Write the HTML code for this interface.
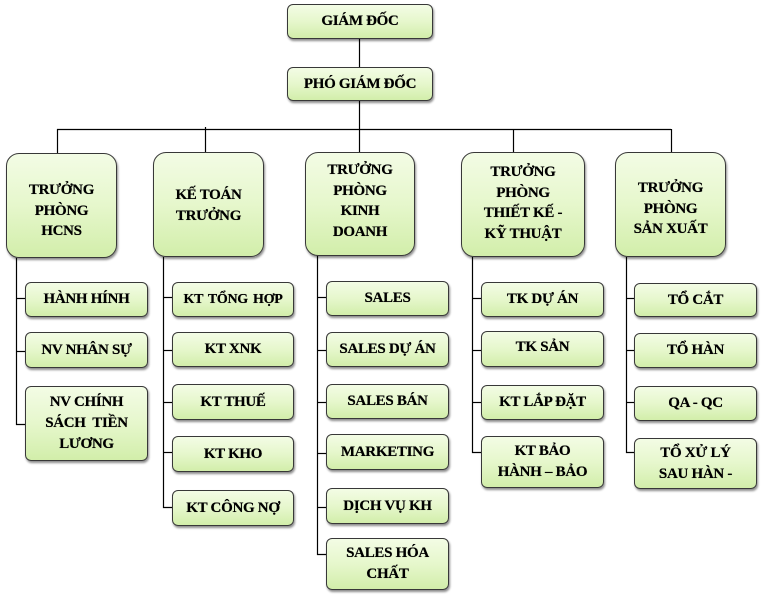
<!DOCTYPE html>
<html><head><meta charset="utf-8">
<style>
html,body{margin:0;padding:0;background:#fff;}
body{width:768px;height:602px;position:relative;overflow:hidden;font-family:"Liberation Serif","Noto Serif CJK SC",serif;}
.b{position:absolute;box-sizing:border-box;border:1px solid #383838;border-radius:6px;
background:linear-gradient(to bottom,#f3fce5 0%,#e6f7cc 50%,#d2eeaa 100%);
box-shadow:1px 2px 2px rgba(0,0,0,0.45);
font-weight:bold;font-size:15px;color:#000;text-align:center;line-height:21px;
display:flex;align-items:center;justify-content:center;flex-direction:column;letter-spacing:-0.3px;
text-shadow:0 0 0.4px #000;}
.big{border-radius:13px;justify-content:flex-start;line-height:20.7px;}
svg{position:absolute;left:0;top:0;}
</style></head><body>
<svg width="768" height="602" viewBox="0 0 768 602">
<g stroke="#000" stroke-width="1.2" fill="none">
<line x1="359.5" y1="39" x2="359.5" y2="67"/>
<line x1="359.5" y1="101" x2="359.5" y2="152"/>
<line x1="57" y1="129.5" x2="671" y2="129.5"/>
<line x1="57.5" y1="129" x2="57.5" y2="153"/>
<line x1="205.5" y1="127" x2="205.5" y2="152"/>
<line x1="513.5" y1="129" x2="513.5" y2="152"/>
<line x1="671.5" y1="129" x2="671.5" y2="152"/>
<!-- HCNS -->
<polyline points="16.5,258 16.5,424.5 25,424.5"/>
<line x1="16.5" y1="298.5" x2="25" y2="298.5"/>
<line x1="16.5" y1="351.5" x2="25" y2="351.5"/>
<!-- KT -->
<polyline points="163.5,257 163.5,507.5 172,507.5"/>
<line x1="163.5" y1="297.5" x2="172" y2="297.5"/>
<line x1="163.5" y1="350.5" x2="172" y2="350.5"/>
<line x1="163.5" y1="402.5" x2="172" y2="402.5"/>
<line x1="163.5" y1="452.5" x2="172" y2="452.5"/>
<!-- KD -->
<polyline points="317.5,256 317.5,554.5 326,554.5"/>
<line x1="317.5" y1="297.5" x2="326" y2="297.5"/>
<line x1="317.5" y1="350.5" x2="326" y2="350.5"/>
<line x1="317.5" y1="402.5" x2="326" y2="402.5"/>
<line x1="317.5" y1="453.5" x2="326" y2="453.5"/>
<line x1="317.5" y1="507.5" x2="326" y2="507.5"/>
<!-- TK -->
<polyline points="472.5,257 472.5,452.5 481,452.5"/>
<line x1="472.5" y1="298.5" x2="481" y2="298.5"/>
<line x1="472.5" y1="350.5" x2="481" y2="350.5"/>
<line x1="472.5" y1="402.5" x2="481" y2="402.5"/>
<!-- SX -->
<polyline points="626.5,257 626.5,452.5 634,452.5"/>
<line x1="626.5" y1="298.5" x2="634" y2="298.5"/>
<line x1="626.5" y1="350.5" x2="634" y2="350.5"/>
<line x1="626.5" y1="402.5" x2="634" y2="402.5"/>
</g>
</svg>

<div class="b" style="left:287px;top:4px;width:146px;height:35px;">GIÁM ĐỐC</div>
<div class="b" style="left:287px;top:67px;width:146px;height:34px;">PHÓ GIÁM ĐỐC</div>

<div class="b big" style="left:6px;top:153px;width:111px;height:105px;padding-top:26px;">TRƯỞNG<br>PHÒNG<br>HCNS</div>
<div class="b big" style="left:153px;top:152px;width:111px;height:105px;padding-top:32px;">KẾ TOÁN<br>TRƯỞNG</div>
<div class="b big" style="left:305px;top:152px;width:110px;height:104px;padding-top:7px;">TRƯỞNG<br>PHÒNG<br>KINH<br>DOANH</div>
<div class="b big" style="left:461px;top:152px;width:124px;height:105px;padding-top:9px;">TRƯỞNG<br>PHÒNG<br>THIẾT KẾ -<br>KỸ THUẬT</div>
<div class="b big" style="left:615px;top:152px;width:111px;height:105px;padding-top:25px;">TRƯỞNG<br>PHÒNG<br>SẢN XUẤT</div>

<div class="b" style="left:25px;top:282px;width:123px;height:35px;">HÀNH HÍNH</div>
<div class="b" style="left:25px;top:332px;width:123px;height:36px;">NV NHÂN SỰ</div>
<div class="b" style="left:25px;top:386px;width:123px;height:75px;">NV CHÍNH<br>SÁCH&nbsp; TIỀN<br>LƯƠNG</div>

<div class="b" style="left:172px;top:282px;width:122px;height:35px;font-size:14px;word-spacing:2px;">KT TỔNG HỢP</div>
<div class="b" style="left:172px;top:332px;width:122px;height:35px;">KT XNK</div>
<div class="b" style="left:172px;top:384px;width:122px;height:36px;">KT THUẾ</div>
<div class="b" style="left:172px;top:436px;width:122px;height:36px;">KT KHO</div>
<div class="b" style="left:172px;top:490px;width:122px;height:36px;">KT CÔNG NỢ</div>

<div class="b" style="left:326px;top:281px;width:123px;height:35px;">SALES</div>
<div class="b" style="left:326px;top:332px;width:123px;height:35px;">SALES DỰ ÁN</div>
<div class="b" style="left:326px;top:384px;width:123px;height:35px;">SALES BÁN</div>
<div class="b" style="left:326px;top:434px;width:123px;height:36px;">MARKETING</div>
<div class="b" style="left:326px;top:488px;width:123px;height:36px;">DỊCH VỤ KH</div>
<div class="b" style="left:326px;top:538px;width:123px;height:52px;">SALES HÓA<br>CHẤT</div>

<div class="b" style="left:481px;top:282px;width:123px;height:35px;">TK DỰ ÁN</div>
<div class="b" style="left:481px;top:331px;width:123px;height:36px;padding-bottom:3px;">TK SẢN</div>
<div class="b" style="left:481px;top:385px;width:123px;height:35px;">KT LẮP ĐẶT</div>
<div class="b" style="left:481px;top:436px;width:123px;height:52px;">KT BẢO<br>HÀNH – BẢO</div>

<div class="b" style="left:634px;top:283px;width:123px;height:34px;">TỔ CẮT</div>
<div class="b" style="left:634px;top:333px;width:123px;height:35px;">TỔ HÀN</div>
<div class="b" style="left:634px;top:386px;width:123px;height:35px;">QA - QC</div>
<div class="b" style="left:634px;top:438px;width:123px;height:51px;">TỔ XỬ LÝ<br>SAU HÀN -</div>
</body></html>
